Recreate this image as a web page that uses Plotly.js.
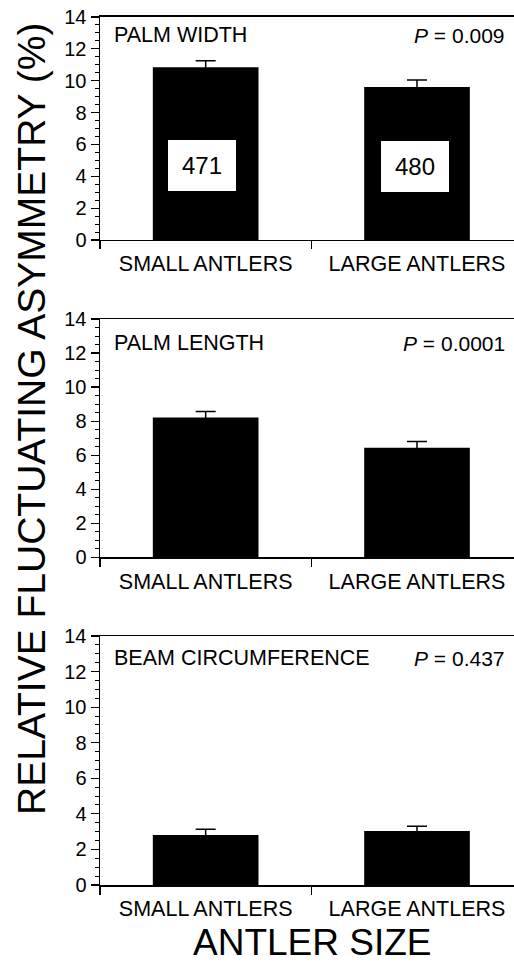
<!DOCTYPE html>
<html>
<head>
<meta charset="utf-8">
<script src="https://cdn.plot.ly/plotly-3.0.1.min.js"></script>
<style>html,body{margin:0;padding:0;background:#fff;}#chart{width:514px;height:965px;}</style>
</head>
<body>
<div id="chart"></div>
<script>
const categories = ["SMALL ANTLERS", "LARGE ANTLERS"];
const panelTitles = ["PALM WIDTH", "PALM LENGTH", "BEAM CIRCUMFERENCE"];
const pValues = ["0.009", "0.0001", "0.437"];
const palmWidth = [10.85, 9.6];
const palmWidthSE = [0.4, 0.45];
const palmLength = [8.22, 6.44];
const palmLengthSE = [0.34, 0.37];
const beamCirc = [2.81, 3.04];
const beamCircSE = [0.32, 0.26];
const sampleSizes = ["471", "480"];
const sampleLabelY = [4.68, 4.62];
const yTickVals = [0, 2, 4, 6, 8, 10, 12, 14];

const values = [palmWidth, palmLength, beamCirc];
const errors = [palmWidthSE, palmLengthSE, beamCircSE];
const domains = [[0.7513, 0.9824], [0.4225, 0.6694], [0.0829, 0.3409]];
const titleY = [0.919, 0.898, 0.910];

const FONT = "Liberation Sans, Arial, Helvetica, sans-serif";
const traces = [];
const layout = {
  width: 514, height: 965,
  margin: {l: 100, r: 0, t: 0, b: 0},
  paper_bgcolor: "#fff", plot_bgcolor: "#fff",
  showlegend: false,
  font: {family: FONT, color: "#000"},
  annotations: []
};

for (let i = 0; i < 3; i++) {
  const n = i === 0 ? "" : String(i + 1);
  traces.push({
    type: "bar", x: categories, y: values[i],
    xaxis: "x" + n, yaxis: "y" + n,
    width: 0.5,
    marker: {color: "#000", line: {width: 0}},
    error_y: {type: "data", array: errors[i], visible: true, color: "#000", thickness: 1.5, width: 10},
    hoverinfo: "none"
  });
  layout["xaxis" + n] = {
    domain: [0, 1], anchor: "y" + n,
    type: "category", range: [-0.5, 1.459],
    tickson: "boundaries", ticks: "outside", ticklen: 8, tickwidth: 1.2, tickcolor: "#000",
    ticklabelstandoff: 4,
    showline: true, linecolor: "#000", linewidth: 1.5, mirror: true,
    showgrid: false, zeroline: false, fixedrange: true, automargin: false,
    tickfont: {family: FONT, size: 21.5, color: "#000"}
  };
  layout["yaxis" + n] = {
    domain: domains[i], anchor: "x" + n,
    range: [0, 14], tickvals: yTickVals,
    ticks: "outside", ticklen: 8, tickwidth: 1.2, tickcolor: "#000",
    minor: {dtick: 0.5, ticks: "outside", ticklen: 4, tickwidth: 1, tickcolor: "#000", showgrid: false},
    showline: true, linecolor: "#000", linewidth: 1.5,
    showgrid: false, zeroline: false, fixedrange: true, automargin: false,
    tickfont: {family: FONT, size: 20, color: "#000"}
  };
  layout.annotations.push({
    xref: "x" + n + " domain", yref: "y" + n + " domain",
    x: 0.03, y: titleY[i], xanchor: "left", yanchor: "middle",
    text: panelTitles[i], showarrow: false,
    font: {family: FONT, size: 21.5, color: "#000"}
  });
  layout.annotations.push({
    xref: "x" + n + " domain", yref: "y" + n + " domain",
    x: 0.982, y: titleY[i], xanchor: "right", yanchor: "middle",
    text: "<i>P</i> = " + pValues[i], showarrow: false,
    font: {family: FONT, size: 21, color: "#000"}
  });
}

for (let j = 0; j < 2; j++) {
  layout.annotations.push({
    xref: "x", yref: "y", x: categories[j], y: sampleLabelY[j],
    xshift: j === 0 ? -4 : -2,
    text: sampleSizes[j], showarrow: false,
    bgcolor: "#fff", borderpad: 0, borderwidth: 0,
    width: 68, height: 51, align: "center", valign: "middle",
    font: {family: FONT, size: 24, color: "#000"}
  });
}

layout.annotations.push({
  xref: "paper", yref: "paper", x: 0.514, y: 0,
  xanchor: "center", yanchor: "bottom",
  text: "ANTLER SIZE", showarrow: false,
  font: {family: FONT, size: 37, color: "#000"}
});
layout.annotations.push({
  xref: "paper", yref: "paper", x: -0.1667, y: 0.5658,
  xanchor: "center", yanchor: "middle", textangle: -90,
  text: "RELATIVE FLUCTUATING ASYMMETRY (%)", showarrow: false,
  font: {family: FONT, size: 39, color: "#000"}
});

Plotly.newPlot("chart", traces, layout, {staticPlot: true, displayModeBar: false});
</script>
</body>
</html>
